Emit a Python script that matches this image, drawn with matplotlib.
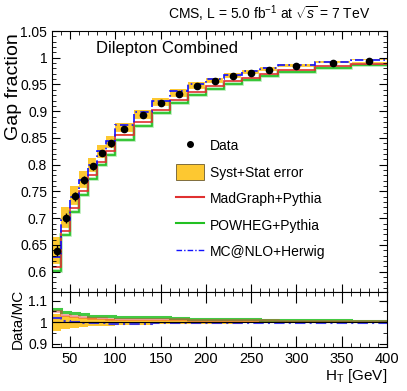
import matplotlib
matplotlib.use("Agg")
import matplotlib.pyplot as plt
import numpy as np
from matplotlib.lines import Line2D
from matplotlib.patches import Patch
from matplotlib.ticker import MultipleLocator

plt.rcParams['font.family'] = ['Liberation Sans', 'DejaVu Sans']
plt.rcParams['mathtext.fontset'] = 'custom'
plt.rcParams['mathtext.rm'] = 'Liberation Sans'
plt.rcParams['mathtext.it'] = 'Liberation Sans:italic'

# H_T bin edges [GeV]
edges = [30, 40, 50, 60, 70, 80, 90, 100, 120, 140, 160, 180, 200,
         220, 240, 260, 280, 320, 360, 400]

data = [0.639, 0.700, 0.741, 0.771, 0.797, 0.822, 0.840, 0.867, 0.893,
        0.916, 0.933, 0.947, 0.957, 0.965, 0.972, 0.978, 0.984, 0.990, 0.994]
stat_err = [0.010, 0.009, 0.008, 0.008, 0.007, 0.006, 0.006, 0.005, 0.004,
            0.004, 0.003, 0.003, 0.003, 0.002, 0.002, 0.002, 0.002, 0.001, 0.001]
tot_err = [0.025, 0.021, 0.019, 0.017, 0.015, 0.014, 0.013, 0.011, 0.010,
           0.009, 0.008, 0.007, 0.006, 0.006, 0.005, 0.005, 0.004, 0.004, 0.003]

madgraph = [0.608, 0.676, 0.719, 0.751, 0.780, 0.806, 0.826, 0.855, 0.880,
            0.903, 0.921, 0.936, 0.947, 0.956, 0.963, 0.970, 0.977, 0.984, 0.989]
powheg = [0.601, 0.669, 0.712, 0.744, 0.773, 0.799, 0.818, 0.847, 0.873,
          0.896, 0.915, 0.931, 0.942, 0.951, 0.959, 0.966, 0.973, 0.981, 0.986]
mcnlo = [0.627, 0.697, 0.740, 0.772, 0.800, 0.826, 0.845, 0.875, 0.899,
         0.920, 0.937, 0.950, 0.960, 0.968, 0.975, 0.980, 0.987, 0.992, 0.996]

ORANGE = "#fdc831"
RED = "#e03030"
GREEN = "#22c022"
BLUE = "#1010ff"


def style_axis(ax):
    ax.tick_params(which="both", direction="in", top=True, right=True,
                   labelsize=10.5)
    ax.tick_params(which="major", length=6)
    ax.tick_params(which="minor", length=3)
    for s in ax.spines.values():
        s.set_linewidth(0.8)


def main():
    e = np.array(edges, dtype=float)
    d = np.array(data)
    err = np.array(tot_err)
    centers = 0.5 * (e[1:] + e[:-1])

    fig = plt.figure(figsize=(4.07, 3.91), dpi=100)
    ax = fig.add_axes([0.1278, 0.2532, 0.8231, 0.6675])
    rx = fig.add_axes([0.1278, 0.1133, 0.8231, 0.1399], sharex=ax)

    # main panel
    ax.stairs(d + err, e, baseline=d - err, fill=True, color=ORANGE, lw=0)
    ax.stairs(np.array(madgraph) + 0.004, e, color="white", lw=1.6, baseline=None)
    ax.stairs(powheg, e, color=GREEN, lw=2.6, alpha=0.35, baseline=None)
    ax.stairs(powheg, e, color=GREEN, lw=1.2, baseline=None)
    ax.stairs(madgraph, e, color=RED, lw=1.2, baseline=None)
    ax.stairs(mcnlo, e, color=BLUE, lw=1.2, ls=(0, (5, 2, 1, 2)),
              baseline=None)
    ax.errorbar(centers, d, yerr=stat_err, fmt="o", color="black", ms=4.5,
                elinewidth=1.0, capsize=0, zorder=5)

    ax.set_xlim(30, 400)
    ax.set_ylim(0.562, 1.05)
    ax.yaxis.set_major_locator(MultipleLocator(0.05))
    ax.yaxis.set_minor_locator(MultipleLocator(0.01))
    ax.xaxis.set_major_locator(MultipleLocator(50))
    ax.xaxis.set_minor_locator(MultipleLocator(10))
    ax.yaxis.set_major_formatter(plt.FuncFormatter(lambda v, p: f"{v:g}"))
    style_axis(ax)
    ax.tick_params(axis="y", labelsize=10)
    ax.tick_params(labelbottom=False)
    ax.set_ylabel("Gap fraction", fontsize=14, loc="top")
    ax.yaxis.set_label_coords(-0.089, 0.99)

    ax.text(0.13, 0.962, "Dilepton Combined", transform=ax.transAxes,
            fontsize=12, ha="left", va="top")
    ax.text(0.95, 1.025, r"CMS, L = 5.0 fb$^{-1}$ at $\sqrt{s}$ = 7 TeV",
            transform=ax.transAxes, fontsize=10, ha="right", va="bottom")

    handles = [
        Line2D([], [], marker="o", color="black", ls="none", ms=4),
        Patch(facecolor=ORANGE, edgecolor="#6a5a30", lw=0.6),
        Line2D([], [], color=RED, lw=1.5),
        Line2D([], [], color=GREEN, lw=1.5),
        Line2D([], [], color=BLUE, lw=1.0, ls=(0, (4, 1.5, 1, 1.5))),
    ]
    labels = ["Data", "Syst+Stat error", "MadGraph+Pythia",
              "POWHEG+Pythia", "MC@NLO+Herwig"]
    ax.legend(handles, labels, loc="upper left", bbox_to_anchor=(0.37, 0.59),
              frameon=False, fontsize=10, handlelength=2.0, handleheight=1.35,
              handletextpad=0.45, labelspacing=0.78, borderaxespad=0,
              borderpad=0)

    # ratio panel
    rx.stairs(1 + err / d, e, baseline=1 - err / d, fill=True, color=ORANGE,
              lw=0)
    rx.stairs(d / np.array(powheg), e, color=GREEN, lw=2.2, alpha=0.85,
              baseline=None)
    rx.stairs(d / np.array(madgraph), e, color=RED, lw=1.8, alpha=0.5,
              baseline=None)
    rx.stairs(d / np.array(mcnlo), e, color=BLUE, lw=1.5, alpha=0.8,
              ls=(0, (5, 2, 1, 2)), baseline=None)
    rx.axhline(1.0, color="black", lw=0.8)
    rx.set_ylim(0.887, 1.14)
    rx.yaxis.set_major_locator(MultipleLocator(0.1))
    rx.yaxis.set_minor_locator(MultipleLocator(0.05))
    rx.yaxis.set_major_formatter(plt.FuncFormatter(lambda v, p: f"{v:g}"))
    style_axis(rx)
    rx.tick_params(axis="y", labelsize=10)
    rx.tick_params(which="major", axis="x", length=8)
    rx.set_ylabel("Data/MC", fontsize=11)
    rx.yaxis.set_label_coords(-0.08, 0.5)
    rx.set_xlabel(r"H$_\mathrm{T}$ [GeV]", fontsize=11, loc="right",
                  labelpad=1)

    fig.savefig("out.png", dpi=100)
    plt.close(fig)


if __name__ == "__main__":
    main()
